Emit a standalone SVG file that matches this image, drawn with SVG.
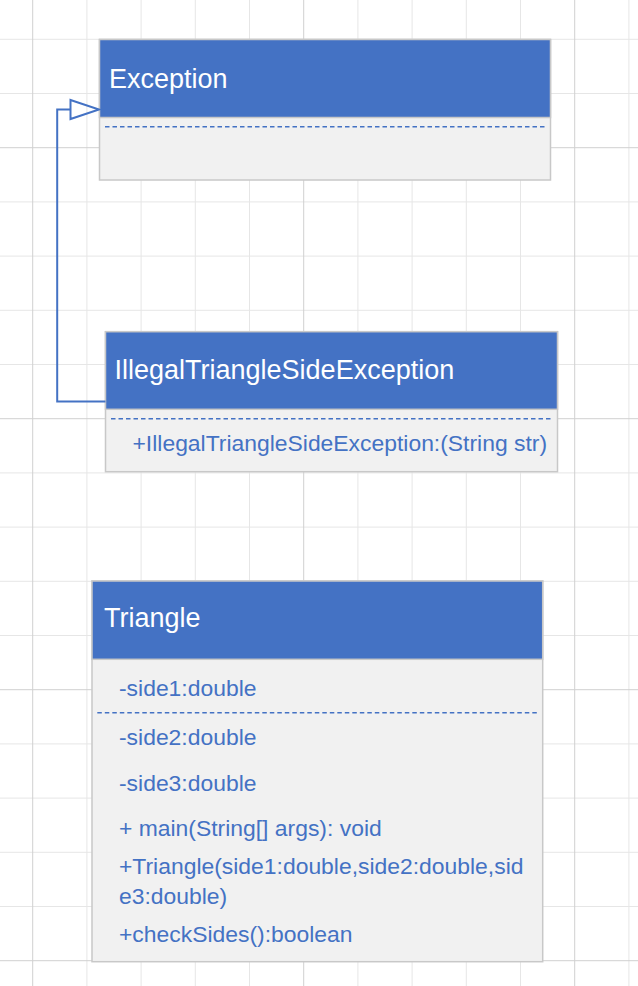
<svg xmlns="http://www.w3.org/2000/svg" width="638" height="986" viewBox="0 0 638 986">
<style>
.g{stroke:#e6e6e6;stroke-width:1}
.gm{stroke:#d0d0d0;stroke-width:1}
.hdr{fill:#4472c4;stroke:#c8c8c8;stroke-width:1.5}
.body{fill:#f1f1f1;stroke:#c8c8c8;stroke-width:1.5}
.sep{stroke:#4472c4;stroke-width:1.5;stroke-dasharray:4.5 3}
.title{font-family:"Liberation Sans",Arial,sans-serif;font-size:27px;fill:#ffffff}
.mem{font-family:"Liberation Sans",Arial,sans-serif;font-size:22.9px;fill:#4472c4}
.edge{fill:none;stroke:#4472c4;stroke-width:2}
</style>
<rect x="0" y="0" width="638" height="986" fill="#ffffff"/>
<g id="grid">
<line class="g" x1="86.9" y1="0" x2="86.9" y2="986"/>
<line class="g" x1="141.1" y1="0" x2="141.1" y2="986"/>
<line class="g" x1="195.3" y1="0" x2="195.3" y2="986"/>
<line class="g" x1="249.5" y1="0" x2="249.5" y2="986"/>
<line class="g" x1="357.9" y1="0" x2="357.9" y2="986"/>
<line class="g" x1="412.1" y1="0" x2="412.1" y2="986"/>
<line class="g" x1="466.3" y1="0" x2="466.3" y2="986"/>
<line class="g" x1="520.5" y1="0" x2="520.5" y2="986"/>
<line class="g" x1="628.9" y1="0" x2="628.9" y2="986"/>
<line class="g" x1="0" y1="39.3" x2="638" y2="39.3"/>
<line class="g" x1="0" y1="93.5" x2="638" y2="93.5"/>
<line class="g" x1="0" y1="201.9" x2="638" y2="201.9"/>
<line class="g" x1="0" y1="256.1" x2="638" y2="256.1"/>
<line class="g" x1="0" y1="310.3" x2="638" y2="310.3"/>
<line class="g" x1="0" y1="364.5" x2="638" y2="364.5"/>
<line class="g" x1="0" y1="472.9" x2="638" y2="472.9"/>
<line class="g" x1="0" y1="527.1" x2="638" y2="527.1"/>
<line class="g" x1="0" y1="581.3" x2="638" y2="581.3"/>
<line class="g" x1="0" y1="635.5" x2="638" y2="635.5"/>
<line class="g" x1="0" y1="743.9" x2="638" y2="743.9"/>
<line class="g" x1="0" y1="798.1" x2="638" y2="798.1"/>
<line class="g" x1="0" y1="852.3" x2="638" y2="852.3"/>
<line class="g" x1="0" y1="906.5" x2="638" y2="906.5"/>
<line class="gm" x1="32.7" y1="0" x2="32.7" y2="986"/>
<line class="gm" x1="303.7" y1="0" x2="303.7" y2="986"/>
<line class="gm" x1="574.7" y1="0" x2="574.7" y2="986"/>
<line class="gm" x1="0" y1="147.7" x2="638" y2="147.7"/>
<line class="gm" x1="0" y1="418.7" x2="638" y2="418.7"/>
<line class="gm" x1="0" y1="689.7" x2="638" y2="689.7"/>
<line class="gm" x1="0" y1="960.7" x2="638" y2="960.7"/>
</g>
<g id="exception">
<rect class="body" x="99.5" y="39.5" width="451" height="140.5"/>
<rect class="hdr" x="99.5" y="39.5" width="451" height="78"/>
<line class="sep" x1="105" y1="126.7" x2="545" y2="126.7"/>
<text class="title" x="109" y="88.3">Exception</text>
</g>
<g id="illegal">
<rect class="body" x="105.5" y="331.7" width="452" height="140"/>
<rect class="hdr" x="105.5" y="331.7" width="452" height="77.6"/>
<line class="sep" x1="111" y1="418.7" x2="552" y2="418.7"/>
<text class="title" x="114.5" y="379.3">IllegalTriangleSideException</text>
<text class="mem" x="132.5" y="450.5">+IllegalTriangleSideException:(String str)</text>
</g>
<g id="triangle">
<rect class="body" x="92" y="581" width="450.7" height="380.7"/>
<rect class="hdr" x="92" y="581" width="450.7" height="78.3"/>
<line class="sep" x1="97.3" y1="712.7" x2="537.3" y2="712.7"/>
<text class="title" x="104" y="626.7">Triangle</text>
<text class="mem" x="119" y="695.5">-side1:double</text>
<text class="mem" x="119" y="745">-side2:double</text>
<text class="mem" x="119" y="790.7">-side3:double</text>
<text class="mem" x="119" y="836">+ main(String[] args): void</text>
<text class="mem" x="119" y="874">+Triangle(side1:double,side2:double,sid</text>
<text class="mem" x="119" y="903.5">e3:double)</text>
<text class="mem" x="119" y="941.7">+checkSides():boolean</text>
</g>
<g id="connectors">
<polyline class="edge" points="105.5,401.5 57.2,401.5 57.2,109.5 70.5,109.5"/>
<polygon class="edge" fill="#ffffff" points="70.5,100 99,109.5 70.5,119"/>
</g>
</svg>
